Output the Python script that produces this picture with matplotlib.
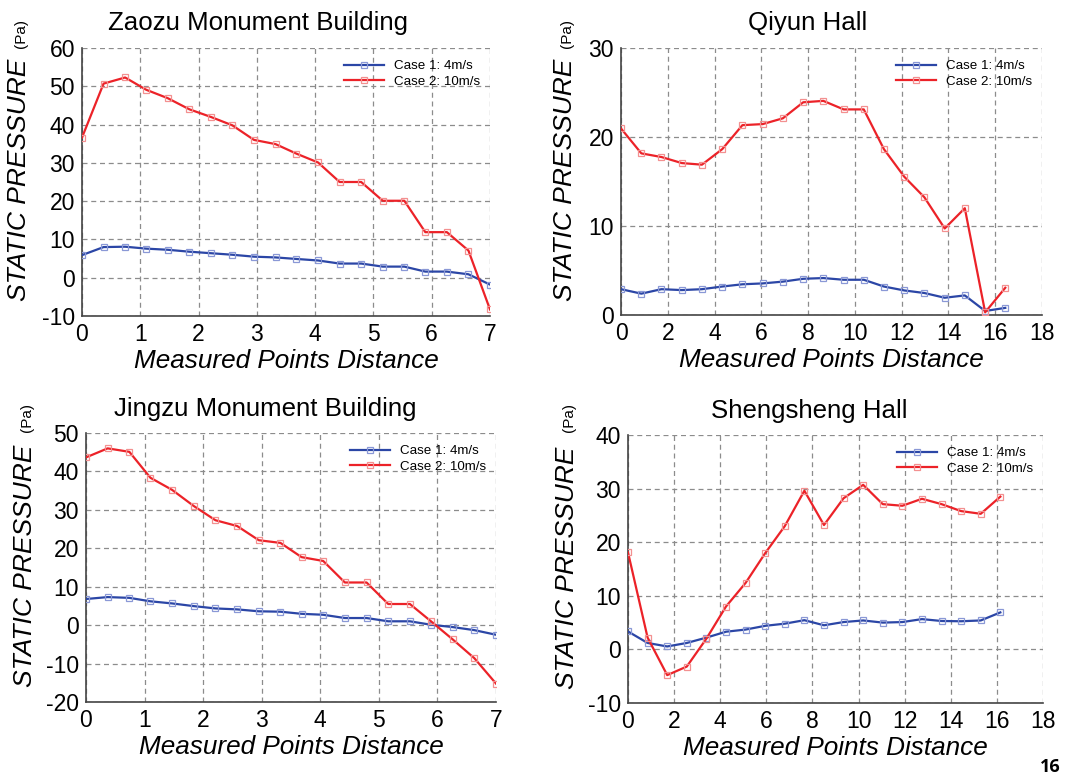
import matplotlib
matplotlib.use("Agg")
import matplotlib.pyplot as plt

plt.rcParams['font.family'] = ['Liberation Sans', 'DejaVu Sans']
plt.rcParams['axes.unicode_minus'] = False

# measured points (distance along path)
x_short = [0.0, 0.37, 0.74, 1.1, 1.47, 1.84, 2.21, 2.58, 2.95, 3.32,
           3.68, 4.05, 4.42, 4.79, 5.16, 5.53, 5.89, 6.26, 6.63, 7.0]
x_qiyun = [0.0, 0.87, 1.73, 2.6, 3.46, 4.33, 5.19, 6.06, 6.92, 7.79,
           8.65, 9.52, 10.38, 11.24, 12.11, 12.97, 13.84, 14.7, 15.57, 16.43]
x_sheng = [0.0, 0.85, 1.7, 2.55, 3.4, 4.25, 5.1, 5.95, 6.8, 7.65,
           8.5, 9.35, 10.2, 11.05, 11.9, 12.75, 13.6, 14.45, 15.3, 16.15]

zaozu_c1 = [5.9, 8.0, 8.1, 7.6, 7.3, 6.8, 6.4, 6.0, 5.5, 5.3,
            4.9, 4.5, 3.7, 3.7, 2.9, 2.9, 1.6, 1.6, 0.9, -1.8]
zaozu_c2 = [36.6, 50.7, 52.3, 49.1, 46.9, 44.0, 42.0, 39.8, 36.0, 34.9,
            32.4, 30.1, 25.0, 25.0, 20.1, 20.1, 11.9, 11.9, 7.1, -8.3]

qiyun_c1 = [2.9, 2.4, 2.9, 2.8, 2.9, 3.2, 3.45, 3.55, 3.75, 4.07,
            4.15, 3.96, 3.96, 3.2, 2.76, 2.47, 1.94, 2.2, 0.45, 0.8]
qiyun_c2 = [20.96, 18.16, 17.75, 17.07, 16.89, 18.64, 21.33, 21.45, 22.1, 23.9,
            24.06, 23.1, 23.1, 18.64, 15.54, 13.23, 9.72, 12.0, 0.3, 3.06]

jingzu_c1 = [6.8, 7.3, 7.1, 6.2, 5.65, 4.95, 4.35, 4.1, 3.6, 3.5,
             2.95, 2.7, 1.85, 1.85, 1.0, 1.0, 0.1, -0.5, -1.3, -2.5]
jingzu_c2 = [43.65, 46.0, 45.1, 38.35, 35.2, 31.0, 27.3, 25.8, 22.1, 21.4,
             17.7, 16.7, 11.1, 11.1, 5.5, 5.5, 1.0, -3.7, -8.6, -15.2]

sheng_c1 = [3.35, 1.2, 0.55, 1.2, 2.2, 3.3, 3.7, 4.4, 4.8, 5.45,
            4.5, 5.1, 5.4, 5.0, 5.1, 5.65, 5.3, 5.25, 5.4, 6.9]
sheng_c2 = [18.1, 2.2, -4.8, -3.2, 2.0, 8.0, 12.4, 17.95, 23.0, 29.6,
            23.2, 28.2, 30.7, 27.1, 26.8, 28.1, 27.1, 25.8, 25.3, 28.5]

titles = ['Zaozu Monument Building', 'Qiyun Hall',
          'Jingzu Monument Building', 'Shengsheng Hall']
labels = ['Case 1: 4m/s', 'Case 2: 10m/s']

W, H = 1069, 777
fig = plt.figure(figsize=(W / 100, H / 100), dpi=100)


def px_axes(l, t, r, b):
    return fig.add_axes([l / W, 1 - b / H, (r - l) / W, (b - t) / H])


def panel(ax, x, c1, c2, xlim, xticks, ylim, yticks):
    ax.plot(x, c1, color='#2b46a6', lw=1.6, marker='s', ms=4.5,
            mfc='none', mec='#8a98d6', mew=0.9, label=labels[0], zorder=3)
    ax.plot(x, c2, color='#ec2228', lw=1.6, marker='s', ms=4.5,
            mfc='none', mec='#f39090', mew=0.9, label=labels[1], zorder=3)
    ax.set_xlim(*xlim)
    ax.set_ylim(*ylim)
    ax.set_xticks(xticks)
    ax.set_yticks(yticks)
    ax.grid(True, ls=(0, (4, 3)), color='#8c8c8c', lw=0.9)
    ax.spines['top'].set_visible(False)
    ax.spines['right'].set_visible(False)
    for s in ['left', 'bottom']:
        ax.spines[s].set_color('#444444')
        ax.spines[s].set_linewidth(1.2)
    ax.tick_params(length=0, labelsize=16.5, pad=5)
    ax.set_xlabel('Measured Points Distance', fontsize=18.8, style='italic',
                  labelpad=2)
    ax.legend(loc='upper right', bbox_to_anchor=(0.995, 0.985), frameon=False,
              fontsize=9.6, handlelength=3.0, handletextpad=0.75,
              labelspacing=0.22, borderaxespad=0.2)


ax1 = px_axes(82, 48, 490, 316)
panel(ax1, x_short, zaozu_c1, zaozu_c2, (0, 7), range(0, 8), (-10, 60),
      range(-10, 61, 10))
ax2 = px_axes(621, 48, 1042, 315)
panel(ax2, x_qiyun, qiyun_c1, qiyun_c2, (0, 18), range(0, 19, 2), (0, 30),
      range(0, 31, 10))
ax3 = px_axes(86, 433, 496, 702)
panel(ax3, x_short, jingzu_c1, jingzu_c2, (0, 7), range(0, 8), (-20, 50),
      range(-20, 51, 10))
ax4 = px_axes(628, 435, 1043, 703)
panel(ax4, x_sheng, sheng_c1, sheng_c2, (0, 18), range(0, 19, 2), (-10, 40),
      range(-10, 41, 10))

# titles and y labels placed in pixel coordinates
title_pos = [(258, 23), (808, 23), (265, 409), (809, 411)]
ylab_pos = [(19, 180, 34), (565, 180, 34), (25, 566, 417), (567, 568, 418)]
for t, (tx, ty), (lx, ly, py) in zip(titles, title_pos, ylab_pos):
    fig.text(tx / W, 1 - ty / H, t, ha='center', va='center', fontsize=18.6)
    fig.text(lx / W, 1 - ly / H, 'STATIC PRESSURE', rotation=90,
             ha='center', va='center', fontsize=19, style='italic')
    fig.text((lx + 2) / W, 1 - py / H, '(Pa)', rotation=90,
             ha='center', va='center', fontsize=11)

fig.text(1050 / W, 1 - 767 / H, '16', ha='center', va='center',
         fontsize=13, fontweight='bold', family='Open Sans')

fig.savefig('out.png', dpi=100)
